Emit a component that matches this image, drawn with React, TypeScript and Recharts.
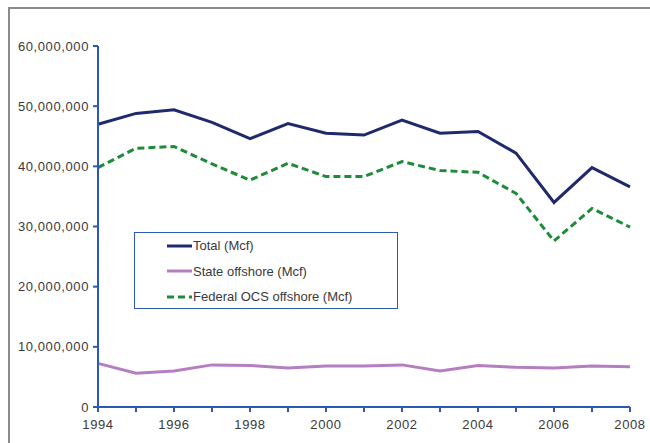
import React from 'react';
import { LineChart, Line, XAxis, YAxis } from 'recharts';

const years = [1994, 1995, 1996, 1997, 1998, 1999, 2000, 2001, 2002, 2003, 2004, 2005, 2006, 2007, 2008];
const totalMcf = [47.0, 48.8, 49.4, 47.3, 44.6, 47.1, 45.5, 45.2, 47.7, 45.5, 45.8, 42.2, 34.0, 39.8, 36.6];
const stateMcf = [7.25, 5.6, 6.0, 7.0, 6.9, 6.5, 6.8, 6.8, 7.0, 6.0, 6.9, 6.6, 6.5, 6.8, 6.7];
const federalMcf = [39.8, 43.0, 43.3, 40.4, 37.7, 40.5, 38.3, 38.3, 40.8, 39.3, 39.0, 35.5, 27.6, 33.0, 29.9];
const yTicks = [0, 10000000, 20000000, 30000000, 40000000, 50000000, 60000000];
const xLabels = [1994, 1996, 1998, 2000, 2002, 2004, 2006, 2008];

const data = years.map((year, i) => ({
  year,
  total: totalMcf[i] * 1e6,
  state: stateMcf[i] * 1e6,
  federal: federalMcf[i] * 1e6,
}));

const AXIS = '#2D59B6';
const FONT = '"Liberation Sans", Arial, sans-serif';
const tickStyle = { fill: '#3a3a3a', fontSize: 13, fontFamily: FONT, letterSpacing: 0.6 };

const series = [
  { key: 'total', name: 'Total (Mcf)', color: '#1F2A6C', dash: undefined },
  { key: 'state', name: 'State offshore (Mcf)', color: '#B57EC3', dash: undefined },
  { key: 'federal', name: 'Federal OCS offshore (Mcf)', color: '#1E8B3A', dash: '7 4' },
];

// legend drawn as an overlay so it doesn't eat plot height
const LegendBox = () => (
  <div
    style={{
      position: 'absolute',
      left: 134,
      top: 232,
      width: 264,
      height: 77,
      border: `1px solid ${AXIS}`,
      background: '#fff',
      fontFamily: FONT,
      fontSize: 13,
      color: '#3a3a3a',
      boxSizing: 'border-box',
      paddingTop: 0,
    }}
  >
    {series.map(s => (
      <div key={s.key} style={{ display: 'flex', alignItems: 'center', height: 25.5, paddingLeft: 32 }}>
        <svg width={25} height={6}>
          <line x1={0} y1={3} x2={25} y2={3} stroke={s.color} strokeWidth={3} strokeDasharray={s.dash} />
        </svg>
        <span style={{ marginLeft: 1 }}>{s.name}</span>
      </div>
    ))}
  </div>
);

export default function App() {
  return (
    <div style={{ position: 'absolute', left: 0, top: 0, width: 650, height: 443, background: '#fff' }}>
      <div
        style={{
          position: 'absolute',
          left: 8,
          top: 7,
          width: 642,
          height: 436,
          borderTop: '2px solid #8a8a8a',
          borderLeft: '2px solid #8a8a8a',
        }}
      />
      <LineChart
        width={650}
        height={443}
        data={data}
        margin={{ top: 46, right: 20, bottom: 0, left: 0 }}
        style={{ position: 'absolute', left: 0, top: 0 }}
      >
        <XAxis
          dataKey="year"
          type="number"
          domain={[1994, 2008]}
          ticks={years}
          interval={0}
          height={36}
          stroke={AXIS}
          strokeWidth={2}
          tickSize={5}
          tickMargin={8}
          tickFormatter={(v: number) => (xLabels.includes(v) ? String(v) : '')}
          tick={tickStyle}
        />
        <YAxis
          width={98}
          domain={[0, 60000000]}
          ticks={yTicks}
          stroke={AXIS}
          strokeWidth={2}
          tickSize={5}
          tickMargin={4}
          tickFormatter={(v: number) => v.toLocaleString('en-US')}
          tick={tickStyle}
        />
        {series.map(s => (
          <Line
            key={s.key}
            dataKey={s.key}
            name={s.name}
            type="linear"
            stroke={s.color}
            strokeWidth={3}
            strokeDasharray={s.dash}
            dot={false}
            isAnimationActive={false}
          />
        ))}
      </LineChart>
      <LegendBox />
    </div>
  );
}
